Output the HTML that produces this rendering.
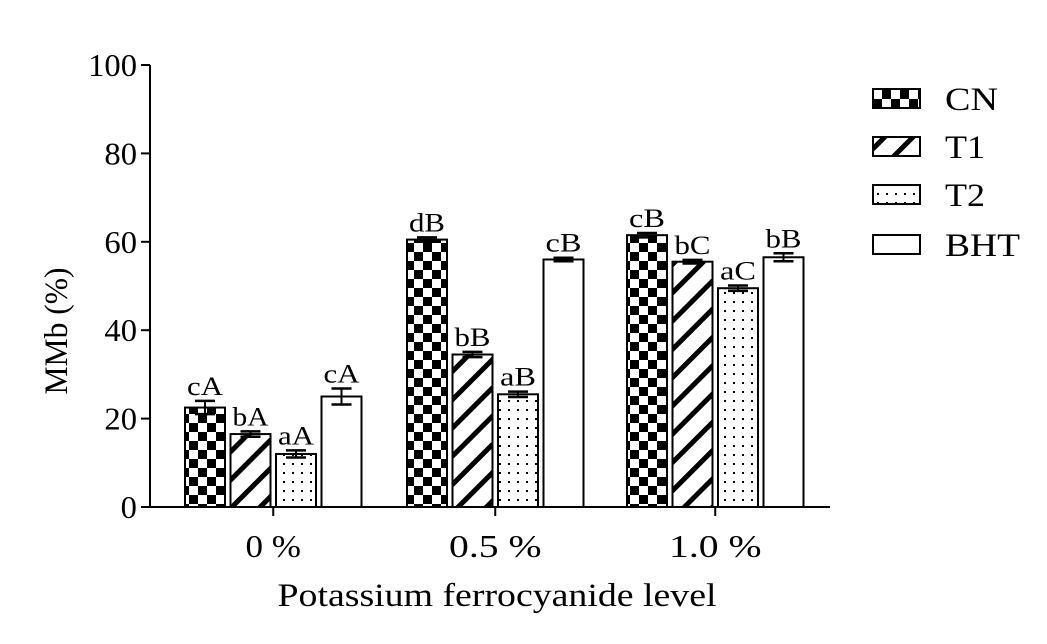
<!DOCTYPE html>
<html><head><meta charset="utf-8"><style>
body{margin:0;background:#fff}
svg{display:block;font-family:"Liberation Serif",serif}
</style></head><body>
<svg id="c" width="1047" height="644">
<defs>
<pattern id="pc" width="18" height="18" patternUnits="userSpaceOnUse"><rect width="18" height="18" fill="#fff"/><rect width="9" height="9" fill="#000"/><rect x="9" y="9" width="9" height="9" fill="#000"/></pattern>
<pattern id="pt" width="20" height="20" patternUnits="userSpaceOnUse" patternTransform="rotate(45)"><rect width="20" height="20" fill="#fff"/><rect width="5" height="20" fill="#000"/></pattern>
<pattern id="pd" width="9" height="9" patternUnits="userSpaceOnUse"><rect width="9" height="9" fill="#fff"/><rect x="4" y="4" width="2" height="2" fill="#000"/></pattern>
</defs>
</svg>
<script>
const categories=["0 %","0.5 %","1.0 %"];
const seriesNames=["CN","T1","T2","BHT"];
const cn=[22.5,60.5,61.5];
const t1=[16.5,34.5,55.5];
const t2=[12,25.5,49.5];
const bht=[25,56,56.5];
const errs=[[1.5,0.5,0.5],[0.6,0.6,0.4],[0.8,0.6,0.6],[1.8,0.4,0.9]];
const letters=[["cA","dB","cB"],["bA","bB","bC"],["aA","aB","aC"],["cA","cB","bB"]];
const yTicks=[0,20,40,60,80,100];
const series=[cn,t1,t2,bht];
const fills=["url(#pc)","url(#pt)","url(#pd)","#fff"];
const svg=document.getElementById('c');
const NS="http://www.w3.org/2000/svg";
function y(v){return 507-v*4.42;}
const groupX=[185,407,627], bw=40, step=45.5;
function x(g,s){return groupX[g]+s*step;}
function el(t,a,txt){const e=document.createElementNS(NS,t);for(const k in a)e.setAttribute(k,a[k]);if(txt!=null)e.textContent=txt;svg.appendChild(e);return e;}
let a=el('line',{x1:150,y1:65,x2:150,y2:508,stroke:'#000','stroke-width':2});


a=el('line',{x1:149,y1:507,x2:830,y2:507,stroke:'#000','stroke-width':2});


yTicks.forEach(v=>{
  el('line',{x1:141,y1:y(v),x2:150,y2:y(v),stroke:'#000','stroke-width':2});
  const t=el('text',{x:137,y:y(v)+11,'text-anchor':'end','font-size':32,textLength:String(v).length*16.3,lengthAdjust:'spacingAndGlyphs'},v);
  
  
});
categories.forEach((c,g)=>{
  const cx=x(g,0)+(3*step+bw)/2;
  el('line',{x1:cx,y1:507,x2:cx,y2:516,stroke:'#000','stroke-width':2});
  const t=el('text',{x:cx,y:557,'text-anchor':'middle','font-size':32,textLength:c.length*18.5,lengthAdjust:'spacingAndGlyphs'},c);
  
  
});
series.forEach((s,i)=>{
  s.forEach((v,g)=>{
    const bx=x(g,i);
    const r=el('rect',{x:bx,y:y(v),width:bw,height:507-y(v),fill:fills[i],stroke:'#000','stroke-width':2});
    
    
    const e=errs[i][g],mx=bx+bw/2;
    el('line',{x1:mx,y1:y(v+e),x2:mx,y2:y(v-e),stroke:'#000','stroke-width':2});
    el('line',{x1:mx-10,y1:y(v+e),x2:mx+10,y2:y(v+e),stroke:'#000','stroke-width':2.5});
    el('line',{x1:mx-10,y1:y(v-e),x2:mx+10,y2:y(v-e),stroke:'#000','stroke-width':2.5});
    const t=el('text',{x:mx,y:y(v+e)-6,'text-anchor':'middle','font-size':26,textLength:36,lengthAdjust:'spacingAndGlyphs'},letters[i][g]);
    
    
  });
});
const ly=[89,137,185,235];
const lw=[53,40,40,75];
seriesNames.forEach((n,i)=>{
  const r=el('rect',{x:873,y:ly[i],width:47,height:19,fill:fills[i],stroke:'#000','stroke-width':2});
  
  
  const t=el('text',{x:945,y:ly[i]+21,'font-size':33,textLength:lw[i],lengthAdjust:'spacingAndGlyphs'},n);
  
  
});
let t=el('text',{x:497,y:606,'text-anchor':'middle','font-size':33,textLength:439,lengthAdjust:'spacingAndGlyphs'},'Potassium ferrocyanide level');


t=el('text',{x:0,y:0,'text-anchor':'middle','font-size':33,textLength:127,lengthAdjust:'spacingAndGlyphs',transform:'translate(67,331) rotate(-90)'},'MMb (%)');


</script>
</body></html>
